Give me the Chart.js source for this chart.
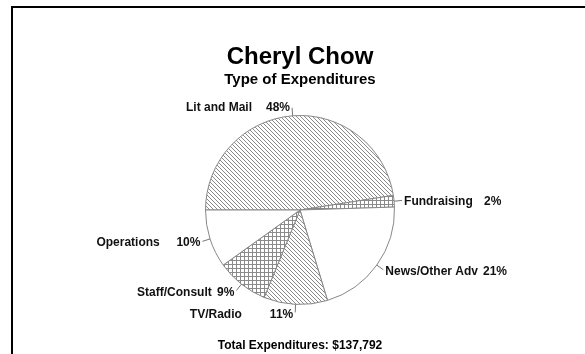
<!DOCTYPE html>
<html>
<head>
<meta charset="utf-8">
<script src="https://cdn.jsdelivr.net/npm/chart.js@4"></script>
<style>
  html, body { margin: 0; padding: 0; background: #fff; }
  canvas { display: block; }
</style>
</head>
<body>
<canvas id="chart" width="585" height="354"></canvas>
<script>
const categories = ['Lit and Mail', 'Fundraising', 'News/Other Adv', 'TV/Radio', 'Staff/Consult', 'Operations'];
const shares = [48, 2, 21, 11, 9, 10];
const fills = ['diag', 'grid', 'none', 'diag', 'grid', 'none'];
const chartTitle = 'Cheryl Chow';
const chartSubtitle = 'Type of Expenditures';
const totalExpenditures = 137792;

const FONT = '"Liberation Sans", Arial, sans-serif';

// small tiles used as hatch fills
function makePattern(kind) {
  if (kind === 'none') return '#ffffff';
  const t = document.createElement('canvas');
  t.width = 4; t.height = 4;
  const c = t.getContext('2d');
  c.fillStyle = '#ffffff';
  c.fillRect(0, 0, 4, 4);
  c.fillStyle = '#8a8a8a';
  if (kind === 'diag') {
    for (let i = 0; i < 4; i++) c.fillRect(i, i, 1, 1);
  } else {
    c.fillRect(0, 0, 4, 1);
    c.fillRect(0, 0, 1, 4);
  }
  return c.createPattern(t, 'repeat');
}

const framePlugin = {
  id: 'frame',
  beforeDraw(chart) {
    const ctx = chart.ctx;
    ctx.save();
    ctx.fillStyle = '#fff';
    ctx.fillRect(0, 0, chart.width, chart.height);
    ctx.strokeStyle = '#000';
    ctx.lineWidth = 2;
    ctx.beginPath();
    ctx.moveTo(12, chart.height + 2);
    ctx.lineTo(12, 7);
    ctx.lineTo(chart.width + 2, 7);
    ctx.stroke();
    ctx.restore();
  }
};

const labelPlugin = {
  id: 'sliceLabels',
  afterDatasetsDraw(chart) {
    const ctx = chart.ctx;
    const arcs = chart.getDatasetMeta(0).data;
    ctx.save();
    ctx.font = 'bold 12px ' + FONT;
    ctx.textBaseline = 'middle';
    ctx.fillStyle = '#111';
    arcs.forEach((arc, i) => {
      const p = arc.getProps(['x', 'y', 'startAngle', 'endAngle', 'outerRadius'], true);
      const mid = (p.startAngle + p.endAngle) / 2;
      const cos = Math.cos(mid), sin = Math.sin(mid);
      const x1 = p.x + p.outerRadius * cos, y1 = p.y + p.outerRadius * sin;
      const x2 = p.x + (p.outerRadius + 8) * cos, y2 = p.y + (p.outerRadius + 8) * sin;
      ctx.strokeStyle = '#777';
      ctx.lineWidth = 1;
      ctx.beginPath();
      ctx.moveTo(x1, y1);
      ctx.lineTo(x2, y2);
      ctx.stroke();

      const name = categories[i];
      const pct = shares[i] + '%';
      const nameW = ctx.measureText(name).width;
      const pctW = ctx.measureText(pct).width;
      const col = Math.max(nameW + 5, 80);
      const ty = y2 + sin + 1;
      ctx.textAlign = 'left';
      let nx;
      if (cos >= 0) nx = x2 + 2;
      else nx = x2 - 2 - col - pctW;
      ctx.fillText(name, nx, ty);
      ctx.fillText(pct, nx + col, ty);
    });

    ctx.textAlign = 'center';
    ctx.textBaseline = 'alphabetic';
    ctx.fillStyle = '#000';
    ctx.font = 'bold 24px ' + FONT;
    ctx.fillText(chartTitle, 300, 64);
    ctx.font = 'bold 15px ' + FONT;
    ctx.fillText(chartSubtitle, 300, 84);
    ctx.font = 'bold 12px ' + FONT;
    ctx.fillText('Total Expenditures: $' + totalExpenditures.toLocaleString('en-US'), 300, 349);
    ctx.restore();
  }
};

new Chart(document.getElementById('chart'), {
  type: 'pie',
  data: {
    labels: categories,
    datasets: [{
      data: shares,
      backgroundColor: fills.map(makePattern),
      borderColor: '#888',
      borderWidth: 1
    }]
  },
  options: {
    responsive: false,
    animation: false,
    rotation: -90,
    layout: { padding: { left: 205, right: 190, top: 115, bottom: 49 } },
    plugins: {
      legend: { display: false },
      tooltip: { enabled: false }
    }
  },
  plugins: [framePlugin, labelPlugin]
});
</script>
</body>
</html>
